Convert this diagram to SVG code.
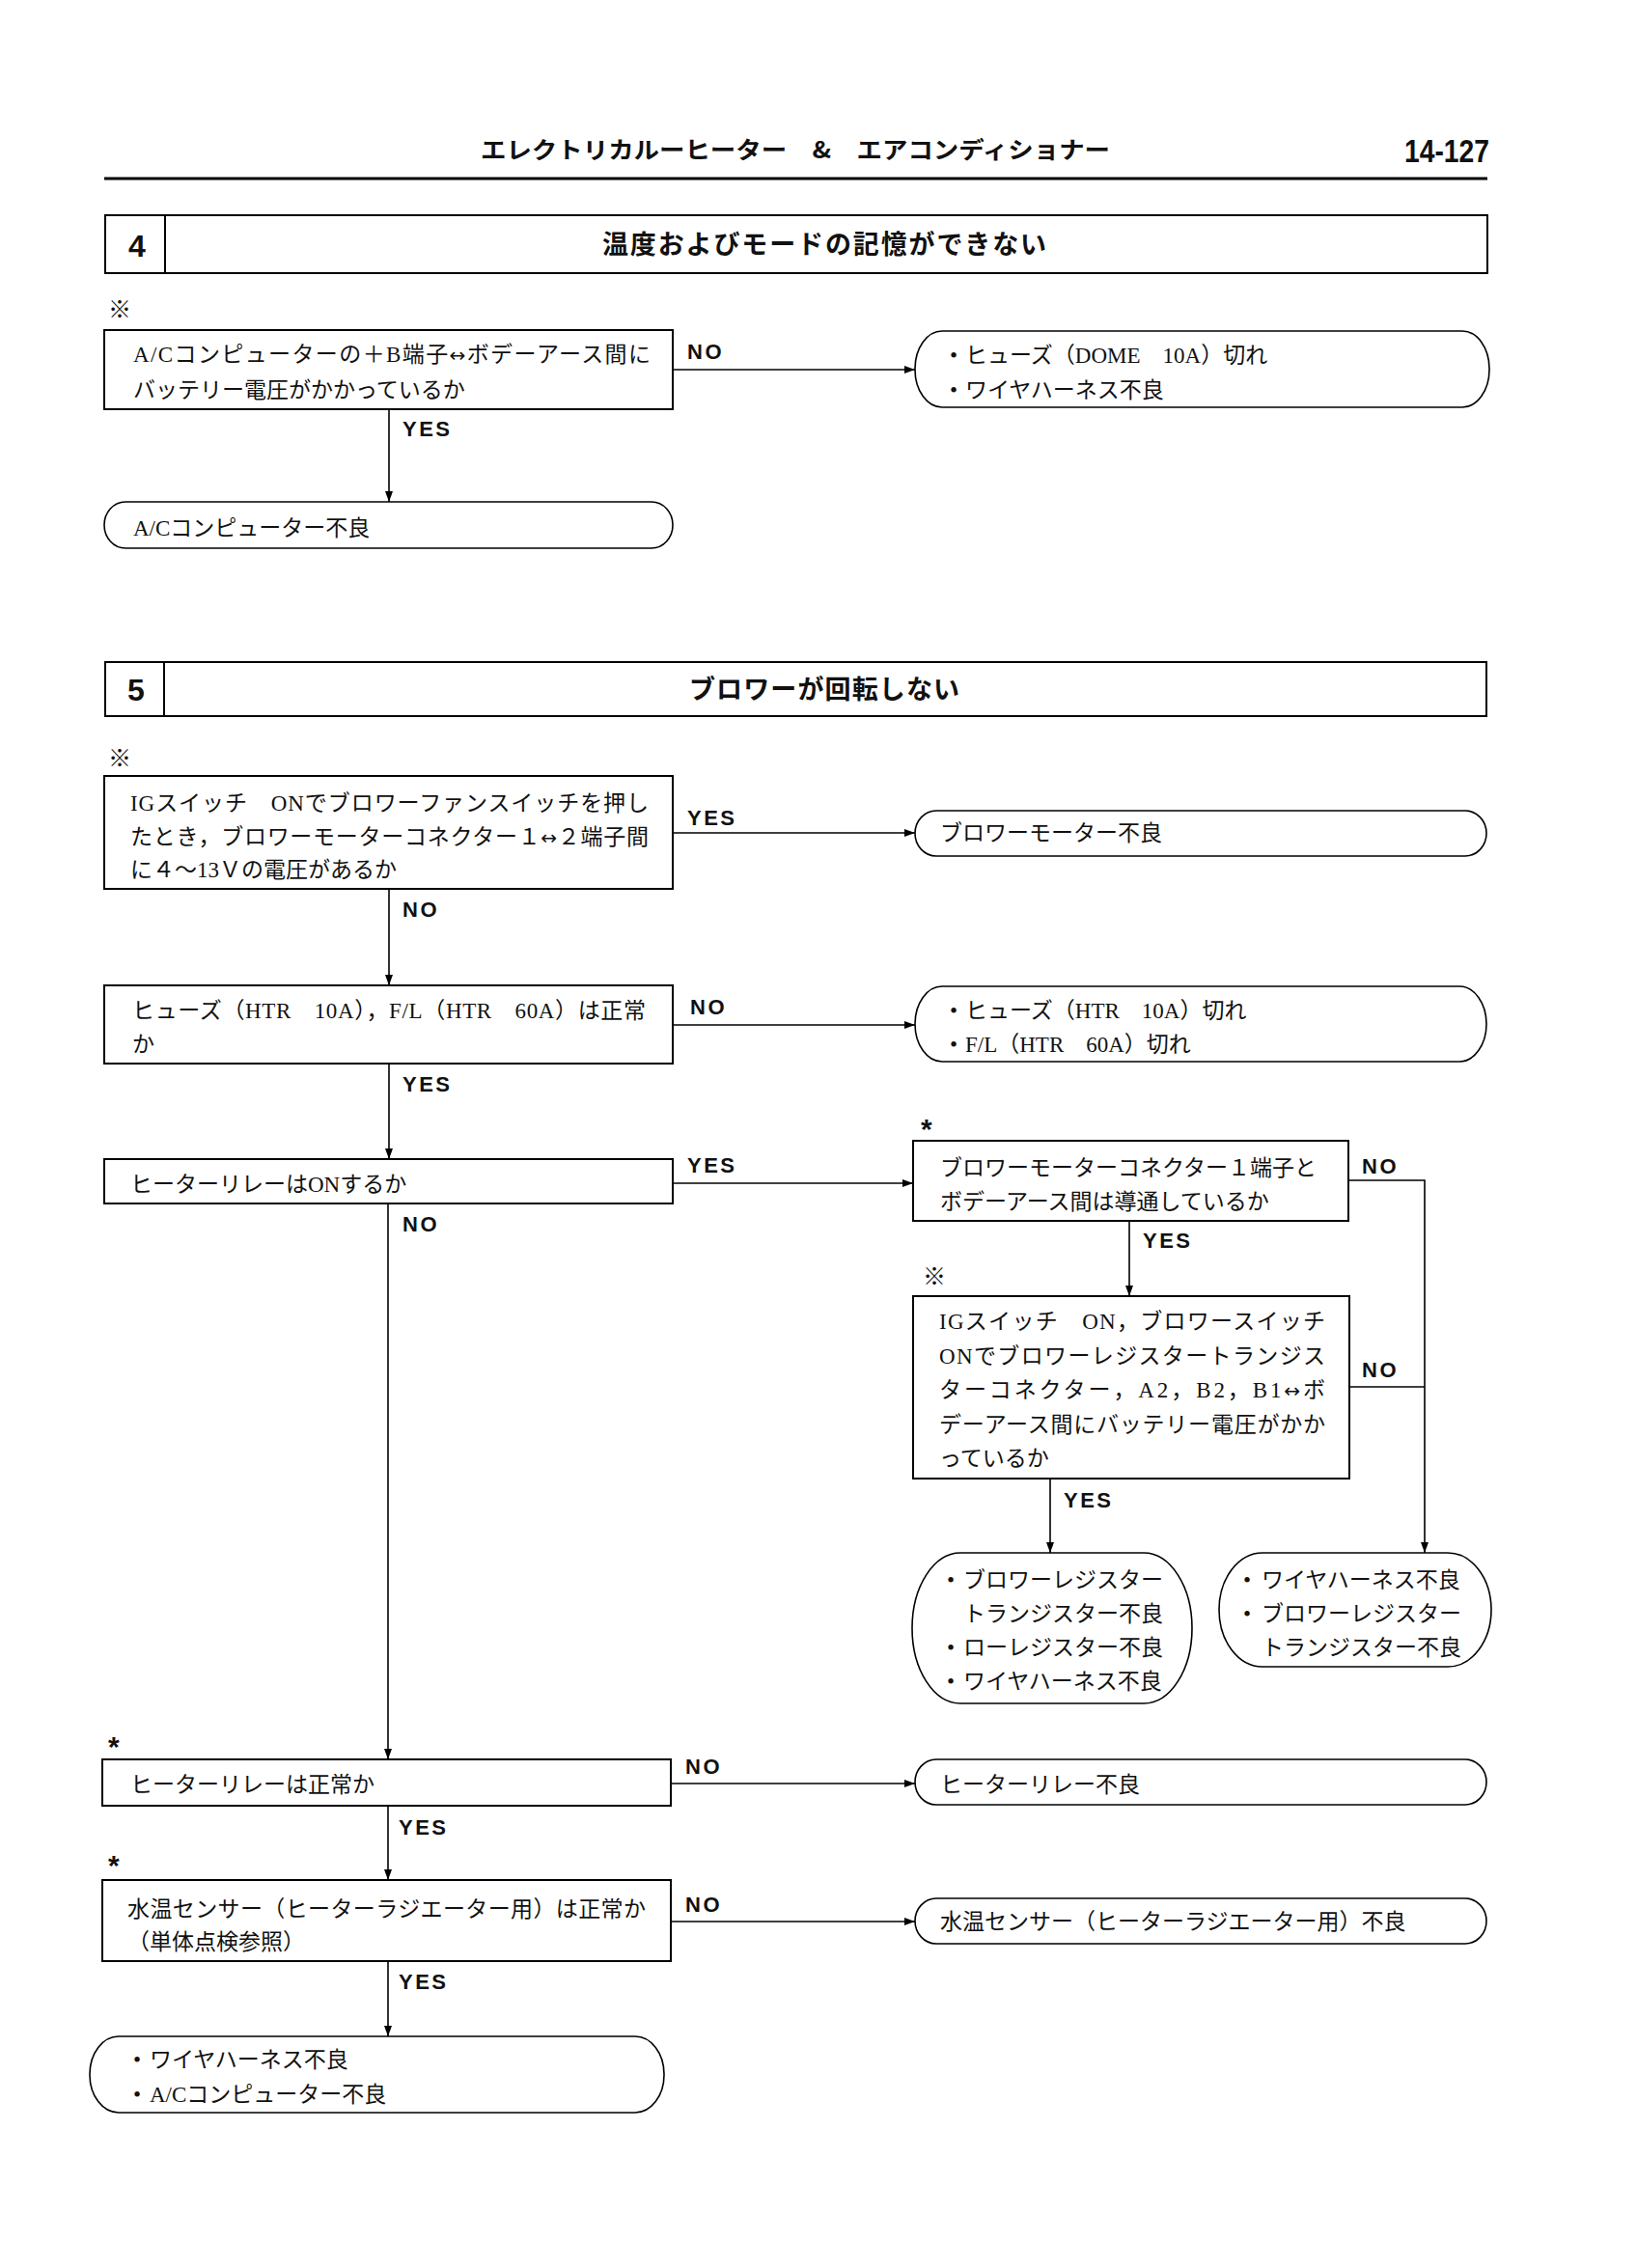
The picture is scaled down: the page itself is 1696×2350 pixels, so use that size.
<svg xmlns="http://www.w3.org/2000/svg" width="1696" height="2350" viewBox="0 0 1696 2350">
<defs>
<style>
.box{fill:#fff;stroke:#000;stroke-width:2}
.term{fill:#fff;stroke:#000;stroke-width:1.6}
.conn{fill:none;stroke:#000;stroke-width:1.6}
.t{font-family:"Liberation Serif","Noto Sans CJK JP",serif;font-size:23px;fill:#111}
.ar{font-family:"DejaVu Sans",sans-serif;font-size:20px}
.lbl{font-family:"Liberation Sans","Noto Sans CJK JP",sans-serif;font-weight:bold;font-size:22px;letter-spacing:2.5px;fill:#111}
.ttl{font-family:"Noto Sans CJK JP",sans-serif;font-weight:bold;font-size:27px;fill:#111}
.num{font-family:"Liberation Sans",sans-serif;font-weight:bold;font-size:32px;fill:#111}
.mark{font-family:"Noto Sans CJK JP",sans-serif;font-size:24px;font-weight:bold;fill:#111}
.ast{font-family:"Liberation Sans",sans-serif;font-weight:bold;font-size:30px;fill:#111}
</style>
<marker id="arr" markerWidth="11" markerHeight="8" refX="11" refY="4" orient="auto" markerUnits="userSpaceOnUse">
<path d="M0,0 L11,4 L0,8 z" fill="#000"/>
</marker>
</defs>
<rect width="1696" height="2350" fill="#fff"/>

<g id="page-header">
<text x="824" y="164" text-anchor="middle" class="ttl" style="font-size:24px" textLength="652" lengthAdjust="spacingAndGlyphs">エレクトリカルーヒーター　&amp;　エアコンディショナー</text>
<text x="1543" y="168" text-anchor="end" class="num" style="font-size:34px" textLength="88" lengthAdjust="spacingAndGlyphs">14-127</text>
<line x1="108" y1="185" x2="1541" y2="185" stroke="#000" stroke-width="3"/>
</g>

<g id="section4-header">
<rect x="109" y="223" width="1432" height="60" class="box"/>
<line x1="171" y1="223" x2="171" y2="283" stroke="#000" stroke-width="2"/>
<text x="142" y="266" text-anchor="middle" class="num">4</text>
<text x="854" y="263" text-anchor="middle" class="ttl" textLength="460" lengthAdjust="spacing">温度およびモードの記憶ができない</text>
</g>

<g id="connectors">
<line x1="697" y1="383" x2="948" y2="383" class="conn" marker-end="url(#arr)"/>
<line x1="403" y1="424" x2="403" y2="520" class="conn" marker-end="url(#arr)"/>
<line x1="697" y1="863" x2="948" y2="863" class="conn" marker-end="url(#arr)"/>
<line x1="403" y1="921" x2="403" y2="1021" class="conn" marker-end="url(#arr)"/>
<line x1="697" y1="1062" x2="948" y2="1062" class="conn" marker-end="url(#arr)"/>
<line x1="403" y1="1102" x2="403" y2="1201" class="conn" marker-end="url(#arr)"/>
<line x1="697" y1="1226" x2="946" y2="1226" class="conn" marker-end="url(#arr)"/>
<polyline points="1397,1223 1476,1223 1476,1609" class="conn" marker-end="url(#arr)"/>
<line x1="1398" y1="1437" x2="1476" y2="1437" class="conn"/>
<line x1="1170" y1="1265" x2="1170" y2="1343" class="conn" marker-end="url(#arr)"/>
<line x1="1088" y1="1532" x2="1088" y2="1609" class="conn" marker-end="url(#arr)"/>
<line x1="402" y1="1247" x2="402" y2="1823" class="conn" marker-end="url(#arr)"/>
<line x1="695" y1="1848" x2="948" y2="1848" class="conn" marker-end="url(#arr)"/>
<line x1="402" y1="1871" x2="402" y2="1948" class="conn" marker-end="url(#arr)"/>
<line x1="695" y1="1991" x2="948" y2="1991" class="conn" marker-end="url(#arr)"/>
<line x1="402" y1="2032" x2="402" y2="2110" class="conn" marker-end="url(#arr)"/>
</g>

<g id="labels">
<text x="712" y="372" class="lbl">NO</text>
<text x="417" y="452" class="lbl">YES</text>
<text x="712" y="855" class="lbl">YES</text>
<text x="417" y="950" class="lbl">NO</text>
<text x="715" y="1051" class="lbl">NO</text>
<text x="417" y="1131" class="lbl">YES</text>
<text x="712" y="1215" class="lbl">YES</text>
<text x="1411" y="1216" class="lbl">NO</text>
<text x="1184" y="1293" class="lbl">YES</text>
<text x="1411" y="1427" class="lbl">NO</text>
<text x="1102" y="1562" class="lbl">YES</text>
<text x="417" y="1276" class="lbl">NO</text>
<text x="710" y="1838" class="lbl">NO</text>
<text x="413" y="1901" class="lbl">YES</text>
<text x="710" y="1981" class="lbl">NO</text>
<text x="413" y="2061" class="lbl">YES</text>
</g>

<g id="s4-q1">
<text x="112" y="329" class="mark">※</text>
<rect x="108" y="342" width="589" height="82" class="box"/>
<text x="138" y="375" class="t" textLength="536" lengthAdjust="spacing">A/Cコンピューターの＋B端子<tspan class="ar">↔</tspan>ボデーアース間に</text>
<text x="138" y="412" class="t">バッテリー電圧がかかっているか</text>
</g>

<g id="s4-t-no">
<rect x="948" y="343" width="595" height="79" rx="28" ry="39" class="term"/>
<text x="984" y="376" class="t">•</text>
<text x="1000" y="376" class="t">ヒューズ（DOME　10A）切れ</text>
<text x="984" y="412" class="t">•</text>
<text x="1000" y="412" class="t">ワイヤハーネス不良</text>
</g>

<g id="s4-t-yes">
<rect x="108" y="520" width="589" height="48" rx="22" ry="24" class="term"/>
<text x="138" y="555" class="t">A/Cコンピューター不良</text>
</g>

<g id="section5-header">
<rect x="109" y="686" width="1431" height="56" class="box"/>
<line x1="170" y1="686" x2="170" y2="742" stroke="#000" stroke-width="2"/>
<text x="141" y="726" text-anchor="middle" class="num">5</text>
<text x="854" y="724" text-anchor="middle" class="ttl" textLength="280" lengthAdjust="spacing">ブロワーが回転しない</text>
</g>

<g id="s5-q1">
<text x="112" y="794" class="mark">※</text>
<rect x="108" y="804" width="589" height="117" class="box"/>
<text x="135" y="840" class="t" textLength="537" lengthAdjust="spacing">IGスイッチ　ONでブロワーファンスイッチを押し</text>
<text x="135" y="875" class="t" textLength="537" lengthAdjust="spacing">たとき，ブロワーモーターコネクター１<tspan class="ar">↔</tspan>２端子間</text>
<text x="135" y="909" class="t">に４～13Ｖの電圧があるか</text>
</g>

<g id="s5-t1">
<rect x="948" y="840" width="592" height="47" rx="22" ry="23.5" class="term"/>
<text x="974" y="871" class="t">ブロワーモーター不良</text>
</g>

<g id="s5-q2">
<rect x="108" y="1021" width="589" height="81" class="box"/>
<text x="137" y="1055" class="t" textLength="532" lengthAdjust="spacing">ヒューズ（HTR　10A），F/L（HTR　60A）は正常</text>
<text x="137" y="1090" class="t">か</text>
</g>

<g id="s5-t2">
<rect x="948" y="1022" width="592" height="78" rx="28" ry="39" class="term"/>
<text x="984" y="1055" class="t">•</text>
<text x="1000" y="1055" class="t">ヒューズ（HTR　10A）切れ</text>
<text x="984" y="1090" class="t">•</text>
<text x="1000" y="1090" class="t">F/L（HTR　60A）切れ</text>
</g>

<g id="s5-q3">
<rect x="108" y="1201" width="589" height="46" class="box"/>
<text x="135" y="1235" class="t">ヒーターリレーはONするか</text>
</g>

<g id="s5-q4">
<text x="954" y="1180" class="ast">*</text>
<rect x="946" y="1182" width="451" height="83" class="box"/>
<text x="974" y="1218" class="t">ブロワーモーターコネクター１端子と</text>
<text x="974" y="1253" class="t">ボデーアース間は導通しているか</text>
</g>

<g id="s5-q5">
<text x="956" y="1331" class="mark">※</text>
<rect x="946" y="1343" width="452" height="189" class="box"/>
<text x="973" y="1377" class="t" textLength="400" lengthAdjust="spacing">IGスイッチ　ON，ブロワースイッチ</text>
<text x="973" y="1413" class="t" textLength="400" lengthAdjust="spacing">ONでブロワーレジスタートランジス</text>
<text x="973" y="1448" class="t" textLength="400" lengthAdjust="spacing">ターコネクター，A2，B2，B1<tspan class="ar">↔</tspan>ボ</text>
<text x="973" y="1484" class="t" textLength="400" lengthAdjust="spacing">デーアース間にバッテリー電圧がかか</text>
<text x="973" y="1519" class="t">っているか</text>
</g>

<g id="s5-t4a">
<rect x="945" y="1609" width="290" height="156" rx="50" ry="78" class="term"/>
<text x="981" y="1645" class="t">•</text>
<text x="998" y="1645" class="t">ブロワーレジスター</text>
<text x="998" y="1680" class="t">トランジスター不良</text>
<text x="981" y="1715" class="t">•</text>
<text x="998" y="1715" class="t">ローレジスター不良</text>
<text x="981" y="1750" class="t">•</text>
<text x="998" y="1750" class="t">ワイヤハーネス不良</text>
</g>

<g id="s5-t4b">
<rect x="1263" y="1609" width="282" height="118" rx="45" ry="59" class="term"/>
<text x="1288" y="1645" class="t">•</text>
<text x="1307" y="1645" class="t">ワイヤハーネス不良</text>
<text x="1288" y="1680" class="t">•</text>
<text x="1307" y="1680" class="t">ブロワーレジスター</text>
<text x="1307" y="1715" class="t">トランジスター不良</text>
</g>

<g id="s5-q6">
<text x="112" y="1820" class="ast">*</text>
<rect x="106" y="1823" width="589" height="48" class="box"/>
<text x="135" y="1857" class="t">ヒーターリレーは正常か</text>
</g>

<g id="s5-t6">
<rect x="948" y="1823" width="592" height="47" rx="22" ry="23.5" class="term"/>
<text x="974" y="1857" class="t">ヒーターリレー不良</text>
</g>

<g id="s5-q7">
<text x="112" y="1943" class="ast">*</text>
<rect x="106" y="1948" width="589" height="84" class="box"/>
<text x="132" y="1986" class="t" textLength="537" lengthAdjust="spacing">水温センサー（ヒーターラジエーター用）は正常か</text>
<text x="132" y="2020" class="t">（単体点検参照）</text>
</g>

<g id="s5-t7">
<rect x="948" y="1967" width="592" height="47" rx="22" ry="23.5" class="term"/>
<text x="974" y="1999" class="t">水温センサー（ヒーターラジエーター用）不良</text>
</g>

<g id="s5-t-final">
<rect x="93" y="2110" width="595" height="79" rx="30" ry="39" class="term"/>
<text x="138" y="2142" class="t">•</text>
<text x="155" y="2142" class="t">ワイヤハーネス不良</text>
<text x="138" y="2178" class="t">•</text>
<text x="155" y="2178" class="t">A/Cコンピューター不良</text>
</g>
</svg>
